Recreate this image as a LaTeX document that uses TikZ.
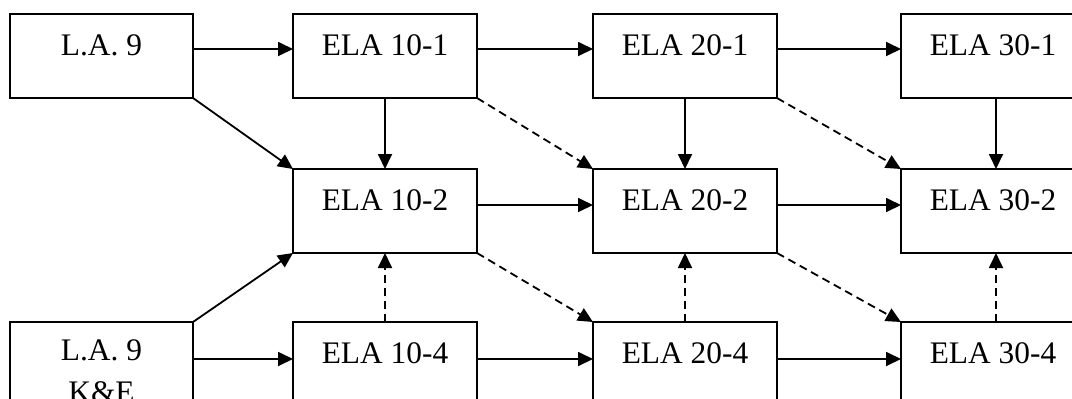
\documentclass[tikz,border=0pt]{standalone}
\usepackage{fontspec}
\setmainfont{Liberation Serif}
\usetikzlibrary{arrows.meta}
\begin{document}
\begin{tikzpicture}[x=1bp,y=-1bp,
  box/.style={draw, line width=1.8bp, rectangle, inner sep=0pt, outer sep=0pt,
    minimum width=184bp, minimum height=84bp, anchor=north west},
  txt/.style={anchor=base, inner sep=0pt, align=center,
    font=\fontsize{31.5}{42}\selectfont},
  arr/.style={line width=1.8bp, -{Triangle[length=15bp,width=14bp]}},
  darr/.style={arr, dash pattern=on 8bp off 5bp}]
\useasboundingbox (0,0) rectangle (1072,398);
% boxes
\node[box, minimum width=183bp] (la9) at (10,14) {};
\node[box] (e11) at (293,14) {};
\node[box] (e21) at (593,14) {};
\node[box] (e31) at (901,14) {};
\node[box] (e12) at (293,169) {};
\node[box] (e22) at (593,169) {};
\node[box] (e32) at (901,169) {};
\node[box, minimum width=183bp] (la9ke) at (10,322) {};
\node[box] (e14) at (293,322) {};
\node[box] (e24) at (593,322) {};
\node[box] (e34) at (901,322) {};
% texts
\node[txt] (tla9) at ([yshift=-41bp]la9.north) {L.A. 9};
\node[txt] (te11) at ([yshift=-41bp]e11.north) {ELA 10-1};
\node[txt] (te21) at ([yshift=-41bp]e21.north) {ELA 20-1};
\node[txt] (te31) at ([yshift=-41bp]e31.north) {ELA 30-1};
\node[txt] (te12) at ([yshift=-41bp]e12.north) {ELA 10-2};
\node[txt] (te22) at ([yshift=-41bp]e22.north) {ELA 20-2};
\node[txt] (te32) at ([yshift=-41bp]e32.north) {ELA 30-2};
\node[txt, anchor=north] (tla9ke) at ([yshift=-18bp]la9ke.north) {L.A. 9\\K\&E};
\node[txt] (te14) at ([yshift=-41bp]e14.north) {ELA 10-4};
\node[txt] (te24) at ([yshift=-41bp]e24.north) {ELA 20-4};
\node[txt] (te34) at ([yshift=-41bp]e34.north) {ELA 30-4};
% horizontal arrows
\draw[arr] ([yshift=-35bp]la9.north east) -- ([yshift=-35bp]e11.north west);
\draw[arr] ([yshift=-35bp]e11.north east) -- ([yshift=-35bp]e21.north west);
\draw[arr] ([yshift=-35bp]e21.north east) -- ([yshift=-35bp]e31.north west);
\draw[arr] ([yshift=-36bp]e12.north east) -- ([yshift=-36bp]e22.north west);
\draw[arr] ([yshift=-36bp]e22.north east) -- ([yshift=-36bp]e32.north west);
\draw[arr] ([yshift=-37bp]la9ke.north east) -- ([yshift=-37bp]e14.north west);
\draw[arr] ([yshift=-37bp]e14.north east) -- ([yshift=-37bp]e24.north west);
\draw[arr] ([yshift=-37bp]e24.north east) -- ([yshift=-37bp]e34.north west);
% vertical arrows
\draw[arr] (e11.south) -- (e12.north);
\draw[arr] (e21.south) -- (e22.north);
\draw[arr] ([xshift=3bp]e31.south) -- ([xshift=3bp]e32.north);
\draw[darr] (e14.north) -- (e12.south);
\draw[darr] (e24.north) -- (e22.south);
\draw[darr] ([xshift=3bp]e34.north) -- ([xshift=3bp]e32.south);
% diagonals
\draw[arr] (la9.south east) -- (e12.north west);
\draw[arr] (la9ke.north east) -- (e12.south west);
\draw[darr] (e11.south east) -- (e22.north west);
\draw[darr] (e21.south east) -- (e32.north west);
\draw[darr] (e12.south east) -- (e24.north west);
\draw[darr] (e22.south east) -- (e34.north west);
\end{tikzpicture}
\end{document}
